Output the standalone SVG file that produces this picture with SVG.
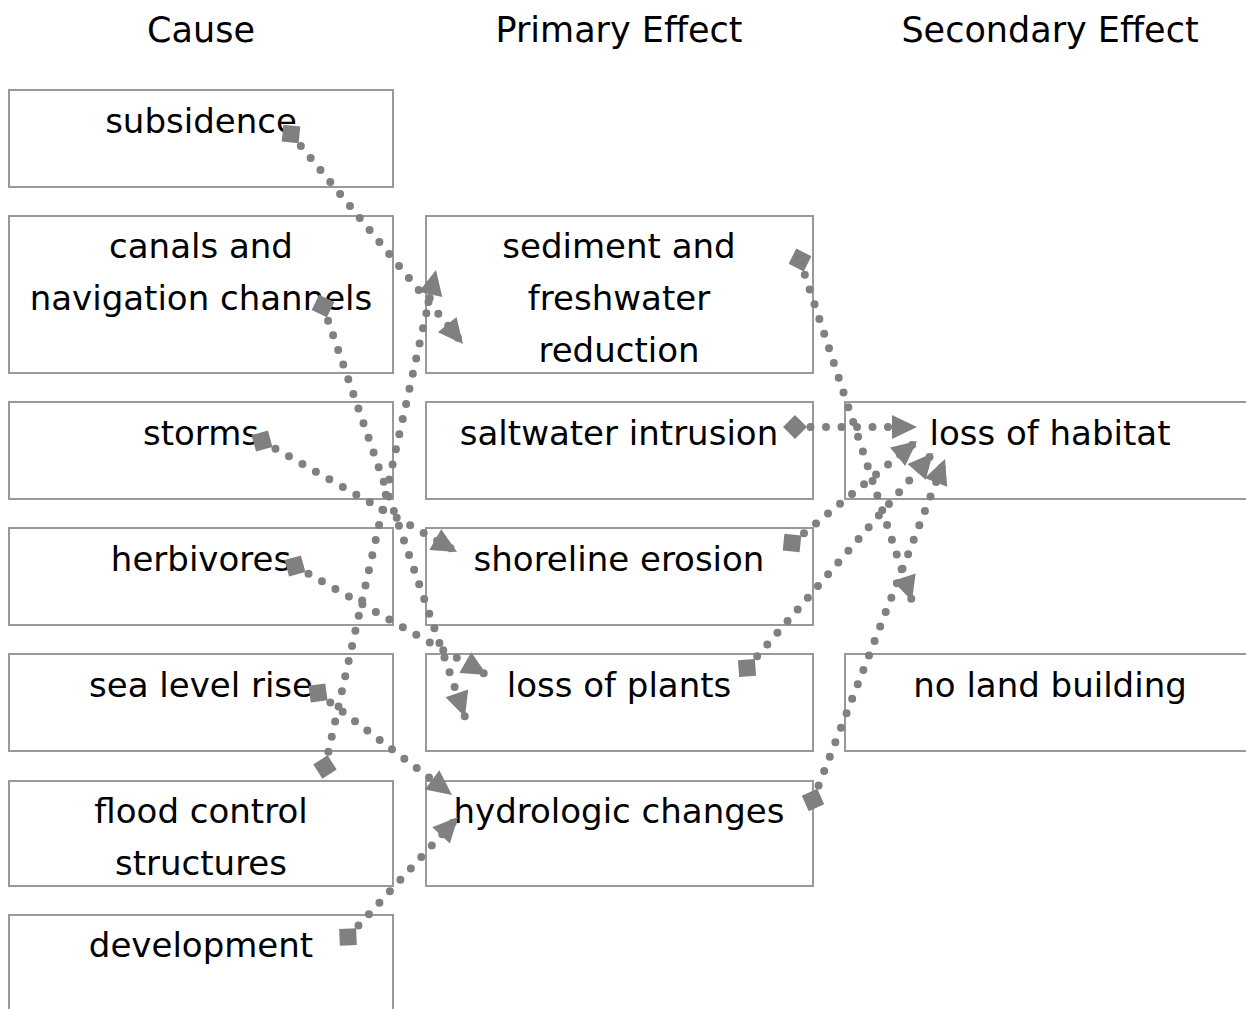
<svg xmlns="http://www.w3.org/2000/svg" width="1246" height="1009" viewBox="0 0 1246 1009">
<style>
  .box { fill: #ffffff; stroke: #999999; stroke-width: 2; }
  .lbl { font-family: "DejaVu Sans", "Noto Sans", sans-serif; font-size: 34px; fill: #000000; text-anchor: middle; }
  .hdr { font-family: "DejaVu Sans", "Noto Sans", sans-serif; font-size: 35px; fill: #000000; text-anchor: middle; }
  .conn { fill: none; stroke: #808080; stroke-width: 8; stroke-linecap: round; stroke-dasharray: 0 15.5; marker-start: url(#sq); marker-end: url(#tri); }
</style>
<defs>
  <marker id="sq" markerUnits="userSpaceOnUse" markerWidth="30" markerHeight="30" refX="0" refY="0" viewBox="-15 -15 30 30" orient="auto" overflow="visible">
    <path d="M -12 0 L 0 -12 L 12 0 L 0 12 Z" fill="#808080"/>
  </marker>
  <marker id="tri" markerUnits="userSpaceOnUse" markerWidth="30" markerHeight="30" refX="0" refY="0" viewBox="-30 -15 30 30" orient="auto" overflow="visible">
    <path d="M 0 0 L -25 -12 L -25 12 Z" fill="#808080"/>
  </marker>
</defs>
<rect width="1246" height="1009" fill="#ffffff"/>

<g id="headers">
  <text class="hdr" x="201" y="42">Cause</text>
  <text class="hdr" x="619" y="42">Primary Effect</text>
  <text class="hdr" x="1050" y="42">Secondary Effect</text>
</g>

<g id="node-subsidence"><rect class="box" x="9" y="90" width="384" height="97"/><text class="lbl" x="201" y="133">subsidence</text></g>
<g id="node-canals"><rect class="box" x="9" y="216" width="384" height="157"/><text class="lbl" x="201" y="258">canals and</text><text class="lbl" x="201" y="310">navigation channels</text></g>
<g id="node-storms"><rect class="box" x="9" y="402" width="384" height="97"/><text class="lbl" x="201" y="445">storms</text></g>
<g id="node-herbivores"><rect class="box" x="9" y="528" width="384" height="97"/><text class="lbl" x="201" y="571">herbivores</text></g>
<g id="node-sealevel"><rect class="box" x="9" y="654" width="384" height="97"/><text class="lbl" x="201" y="697">sea level rise</text></g>
<g id="node-flood"><rect class="box" x="9" y="781" width="384" height="105"/><text class="lbl" x="201" y="823">flood control</text><text class="lbl" x="201" y="875">structures</text></g>
<g id="node-development"><rect class="box" x="9" y="915" width="384" height="110"/><text class="lbl" x="201" y="957">development</text></g>

<g id="node-sediment"><rect class="box" x="426" y="216" width="387" height="157"/><text class="lbl" x="619" y="258">sediment and</text><text class="lbl" x="619" y="310">freshwater</text><text class="lbl" x="619" y="362">reduction</text></g>
<g id="node-saltwater"><rect class="box" x="426" y="402" width="387" height="97"/><text class="lbl" x="619" y="445">saltwater intrusion</text></g>
<g id="node-shoreline"><rect class="box" x="426" y="528" width="387" height="97"/><text class="lbl" x="619" y="571">shoreline erosion</text></g>
<g id="node-plants"><rect class="box" x="426" y="654" width="387" height="97"/><text class="lbl" x="619" y="697">loss of plants</text></g>
<g id="node-hydrologic"><rect class="box" x="426" y="781" width="387" height="105"/><text class="lbl" x="619" y="823">hydrologic changes</text></g>

<g id="node-habitat"><rect class="box" x="845" y="402" width="410" height="97"/><text class="lbl" x="1050" y="445">loss of habitat</text></g>
<g id="node-noland"><rect class="box" x="845" y="654" width="410" height="97"/><text class="lbl" x="1050" y="697">no land building</text></g>

<g id="connectors">
  <path class="conn" d="M 291 134 L 463 344"/>
  <path class="conn" d="M 323 306 L 465 717"/>
  <path class="conn" d="M 262 441 L 457 552"/>
  <path class="conn" d="M 295 566 L 487 675"/>
  <path class="conn" d="M 318 693 L 452 795"/>
  <path class="conn" d="M 325 767 L 436 270"/>
  <path class="conn" d="M 348 937 L 458 817"/>
  <path class="conn" d="M 800 260 L 912 601"/>
  <path class="conn" d="M 795 427 L 917 427"/>
  <path class="conn" d="M 792 543 L 917 441"/>
  <path class="conn" d="M 747 668 L 933 453"/>
  <path class="conn" d="M 813 800 L 945 459"/>
</g>
</svg>
